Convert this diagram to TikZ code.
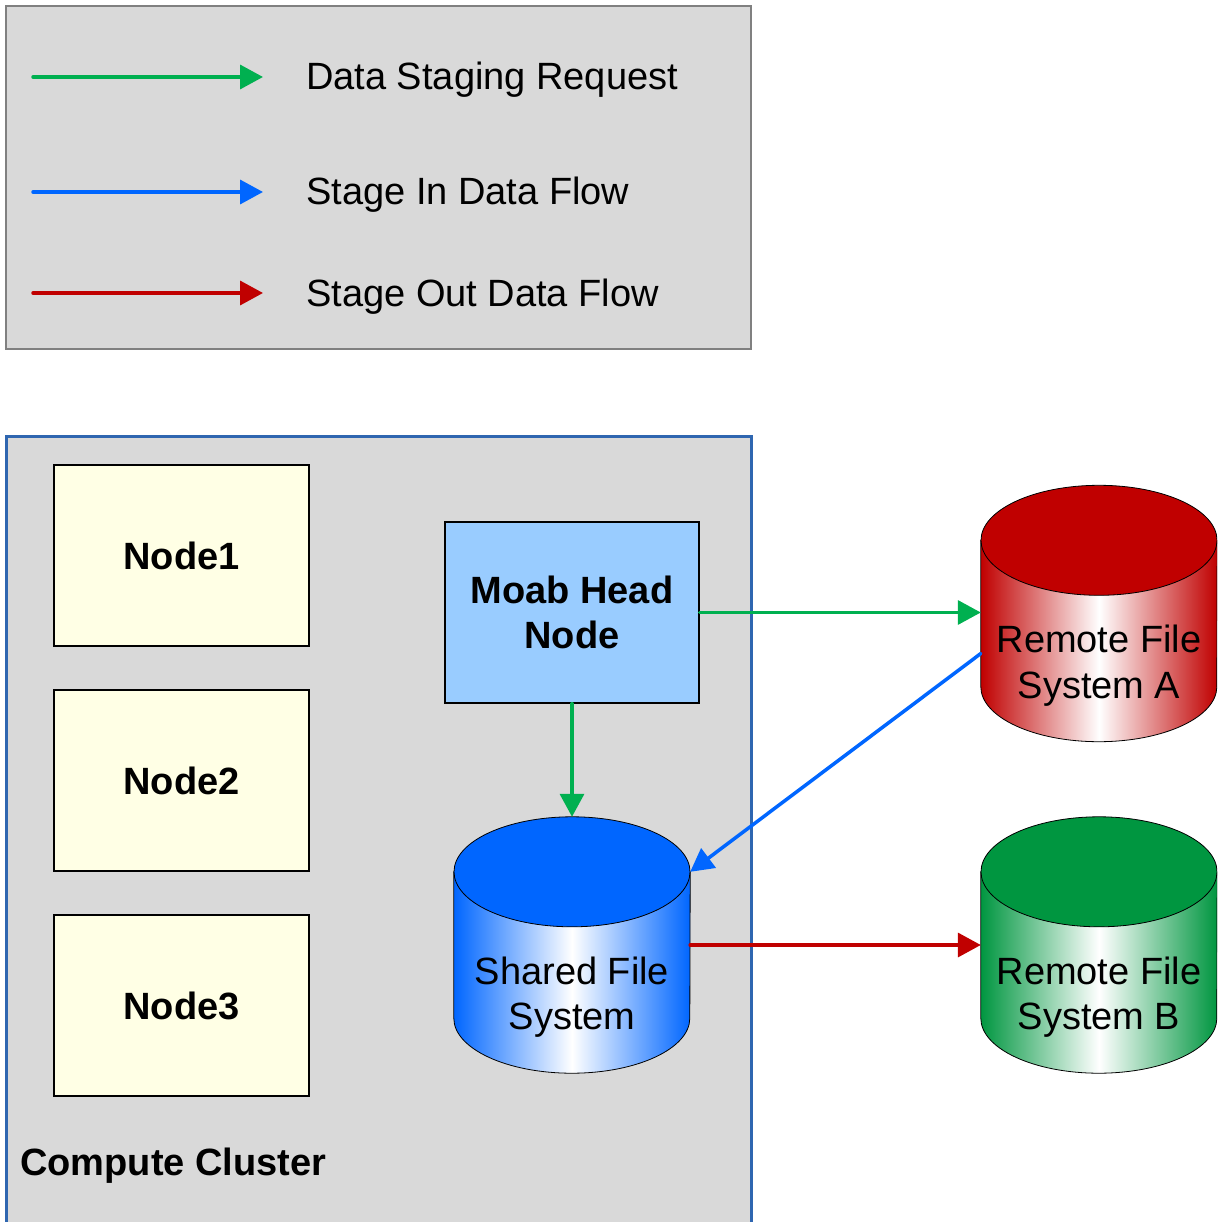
\documentclass[tikz,border=0pt]{standalone}
\usepackage{fontspec}
\setmainfont{Liberation Sans}
\usetikzlibrary{arrows.meta}
\definecolor{lgray}{HTML}{D9D9D9}
\definecolor{bordergray}{HTML}{808080}
\definecolor{clusterblue}{HTML}{2F66B0}
\definecolor{nodeyellow}{HTML}{FFFFE5}
\definecolor{moabblue}{HTML}{99CCFF}
\definecolor{arrgreen}{HTML}{00B050}
\definecolor{arrblue}{HTML}{0066FF}
\definecolor{arrred}{HTML}{C00000}
\definecolor{cylblue}{HTML}{0066FF}
\definecolor{cylred}{HTML}{C00000}
\definecolor{cylgreen}{HTML}{009640}
\newcommand\dfont{\fontsize{38}{45.6}\selectfont}
\newcommand\drawcyl[3]{%
  \path[left color=#2, right color=#2, middle color=white, draw=black, line width=0.8pt]
    ([yshift=-55pt]#1.north west) -- ([yshift=55pt]#1.south west)
    arc[start angle=180, end angle=360, x radius=118pt, y radius=55pt]
    -- ([yshift=-55pt]#1.north east) -- cycle;
  \draw[fill=#3, line width=0.8pt] ([yshift=-55pt]#1.north) ellipse[x radius=118pt, y radius=55pt];
}
\begin{document}
\begin{tikzpicture}[x=1pt, y=-1pt,
  panel/.style={draw=#1, fill=lgray, inner sep=0pt},
  compbox/.style={draw=black, line width=1.3pt, fill=nodeyellow, minimum width=255pt, minimum height=181pt, inner sep=0pt, font=\dfont\bfseries},
  cylnode/.style={minimum width=236pt, minimum height=256pt, inner sep=0pt},
  cyltext/.style={font=\dfont, align=center, inner sep=0pt},
  arr/.style={line width=3.5pt, line cap=round, -{Triangle[length=23pt, width=24pt]}},
  legtext/.style={font=\dfont, anchor=base west, inner sep=0pt}
]
\clip (0,0) rectangle (1217,1222);
\fill[white] (0,0) rectangle (1217,1222);

% legend
\node[panel=bordergray, line width=1.2pt, minimum width=745pt, minimum height=343pt] (legend) at (378.5,177.5) {};
\coordinate (ga) at (33,77);  \coordinate (gb) at (263,77);
\coordinate (ba) at (33,192); \coordinate (bb) at (263,192);
\coordinate (ra) at (33,293); \coordinate (rb) at (263,293);
\draw[arr, arrgreen] (ga) -- (gb);
\draw[arr, arrblue] (ba) -- (bb);
\draw[arr, arrred] (ra) -- (rb);
\node[legtext] (lt1) at (306,90) {Data Staging Request};
\node[legtext] (lt2) at (306,205) {Stage In Data Flow};
\node[legtext] (lt3) at (306,306) {Stage Out Data Flow};

% cluster
\node[panel=clusterblue, line width=3pt, minimum width=745pt, minimum height=830pt] (cluster) at (378.5,851) {};
\node[font=\dfont\bfseries, anchor=base west, inner sep=0pt] (cltitle) at (20,1175) {Compute Cluster};

\node[compbox] (n1) at (181.5,555.5) {Node1};
\node[compbox] (n2) at (181.5,780.5) {Node2};
\node[compbox] (n3) at (181.5,1005.5) {Node3};

\node[compbox, fill=moabblue, minimum width=254pt, align=center] (moab) at (572,612.5) {Moab Head\\Node};

% cylinders
\node[cylnode] (sfs) at (572,945) {};
\node[cylnode] (rfa) at (1099,613.5) {};
\node[cylnode] (rfb) at (1099,945) {};
\drawcyl{sfs}{cylblue}{cylblue}
\drawcyl{rfa}{cylred}{cylred}
\drawcyl{rfb}{cylgreen}{cylgreen}
\node[cyltext] (sfst) at ([yshift=-52pt]sfs.center) {Shared File\\System};
\node[cyltext] (rfat) at ([yshift=-52pt]rfa.center) {Remote File\\System A};
\node[cyltext] (rfbt) at ([yshift=-52pt]rfb.center) {Remote File\\System B};

% connectors
\draw[arr, arrgreen] (moab.east) -- (moab.east -| rfa.west);
\draw[arr, arrgreen] (moab.south) -- (sfs.north);
\draw[arr, arrblue] ([yshift=-40pt]rfa.west) -- ([yshift=-55pt]sfs.north east);
\draw[arr, arrred] (sfs.east) -- (rfb.west);
\end{tikzpicture}
\end{document}
